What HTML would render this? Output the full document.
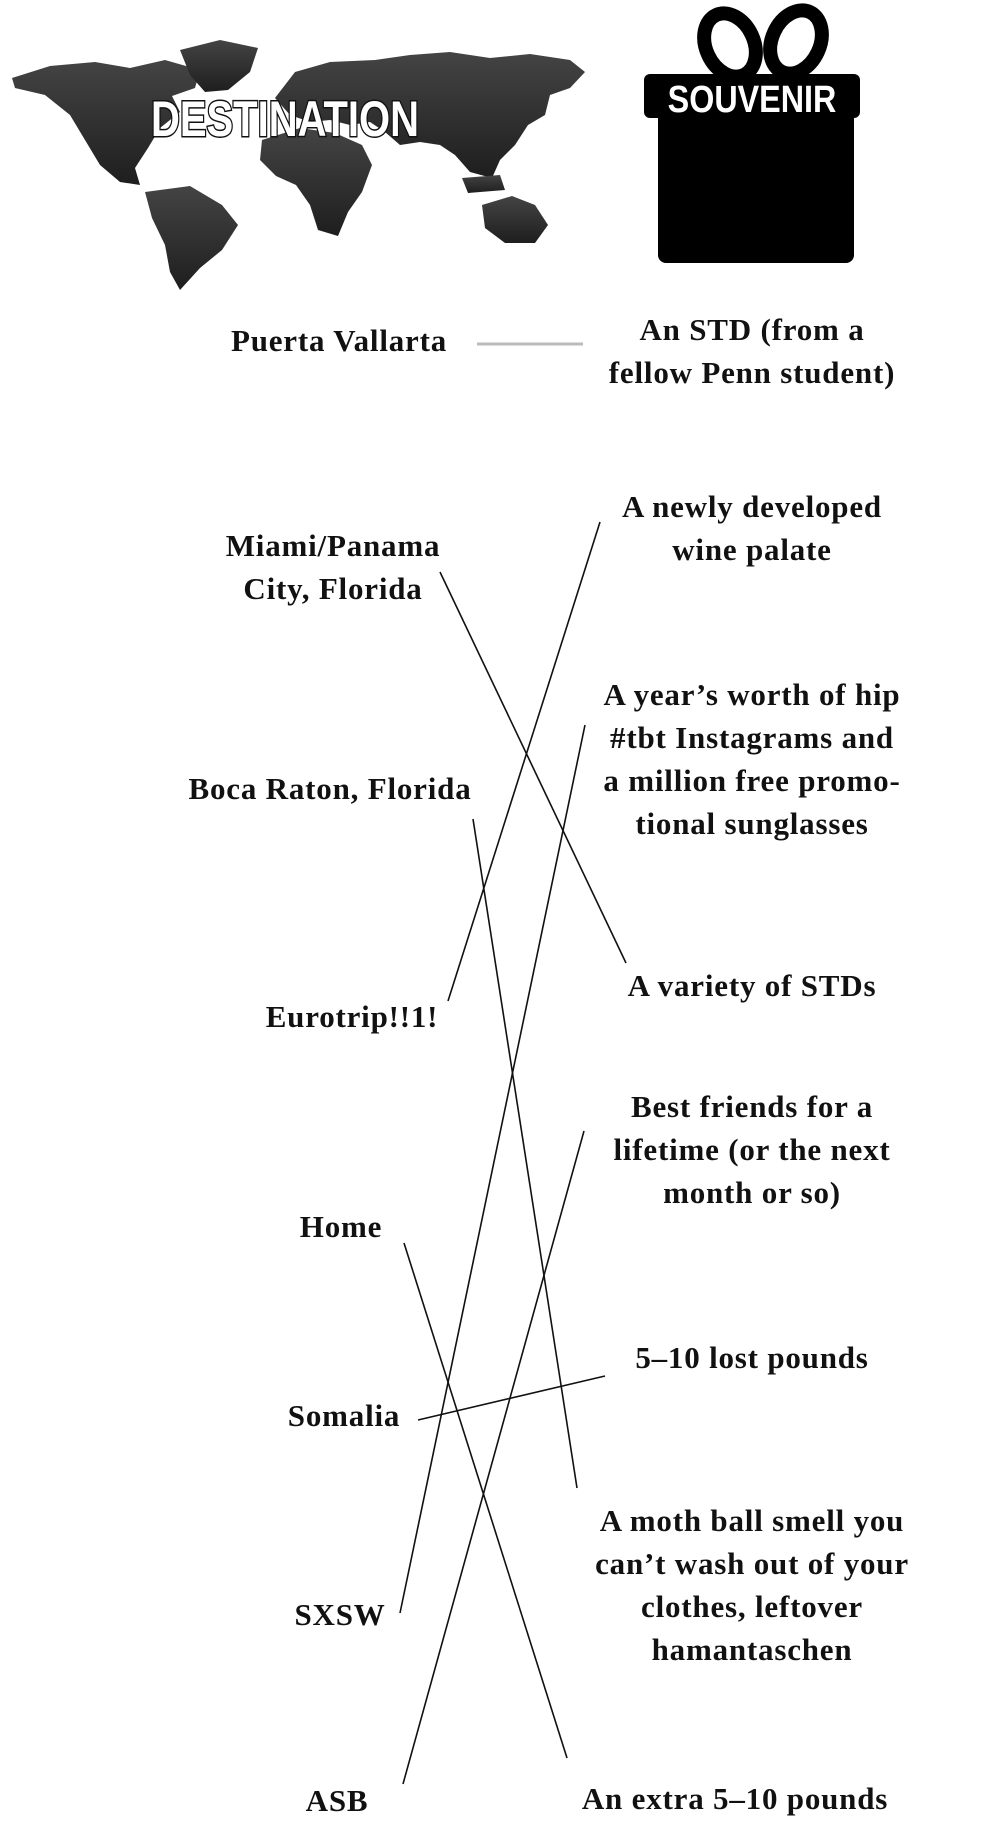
<!DOCTYPE html>
<html><head><meta charset="utf-8"><style>
html,body{margin:0;padding:0;background:#fff;}
body{width:1000px;height:1843px;position:relative;overflow:hidden;font-family:"Liberation Serif",serif;}
.t{position:absolute;font-size:31px;font-weight:bold;color:#111;text-align:center;line-height:43px;letter-spacing:0.8px;white-space:nowrap;transform:translateX(-50%);}
</style></head><body>
<svg width="1000" height="1843" style="position:absolute;left:0;top:0">
<defs><linearGradient id="g" x1="0" y1="0" x2="0" y2="1"><stop offset="0" stop-color="#444"/><stop offset="1" stop-color="#1e1e1e"/></linearGradient></defs>
<g fill="url(#g)">
<path d="M12,78 L50,66 L95,62 L130,68 L165,60 L200,70 L195,88 L172,96 L180,112 L160,128 L148,148 L135,168 L140,185 L120,182 L100,165 L85,140 L70,115 L45,95 L15,88Z"/>
<path d="M180,50 L220,40 L258,48 L250,72 L228,90 L205,92 L190,75Z"/>
<path d="M145,192 L190,186 L222,205 L238,225 L222,250 L200,268 L180,290 L170,272 L165,245 L152,218Z"/>
<path d="M275,98 L295,72 L330,62 L375,60 L410,55 L450,52 L490,58 L530,54 L570,60 L585,72 L570,88 L550,95 L545,115 L528,125 L515,145 L500,160 L492,178 L470,172 L455,155 L440,145 L420,142 L400,145 L385,132 L370,122 L350,125 L330,120 L310,122 L290,115Z"/>
<path d="M262,140 L300,128 L335,133 L362,145 L372,165 L362,192 L348,212 L338,236 L318,230 L310,205 L296,185 L276,176 L260,160Z"/>
<path d="M482,205 L512,196 L535,205 L548,225 L535,243 L505,243 L485,228Z"/>
<path d="M462,178 L500,175 L505,190 L468,193Z"/>
</g>
<text x="285" y="136" text-anchor="middle" font-family="Liberation Sans,sans-serif" font-weight="bold" font-size="50" fill="#fff" stroke="#111" stroke-width="3" paint-order="stroke" transform="translate(285,0) scale(0.8,1) translate(-285,0)">DESTINATION</text>
<ellipse cx="730" cy="45" rx="24" ry="33" fill="none" stroke="#000" stroke-width="14" transform="rotate(-25 730 45)"/>
<ellipse cx="796" cy="42" rx="24" ry="33" fill="none" stroke="#000" stroke-width="14" transform="rotate(25 796 42)"/>
<rect x="644" y="74" width="216" height="44" rx="6" fill="#000"/>
<rect x="658" y="110" width="196" height="153" rx="8" fill="#000"/>
<text x="752" y="112" text-anchor="middle" font-family="Liberation Sans,sans-serif" font-weight="bold" font-size="38" fill="#fff" transform="translate(752,0) scale(0.85,1) translate(-752,0)">SOUVENIR</text>
<line x1="477" y1="344" x2="583" y2="344" stroke="#bbb" stroke-width="3"/>
<g stroke="#111" stroke-width="1.6">
<line x1="448" y1="1001" x2="600" y2="522"/>
<line x1="440" y1="572" x2="626" y2="963"/>
<line x1="473" y1="819" x2="577" y2="1488"/>
<line x1="400" y1="1613" x2="585" y2="725"/>
<line x1="403" y1="1784" x2="584" y2="1131"/>
<line x1="404" y1="1243" x2="567" y2="1758"/>
<line x1="418" y1="1420" x2="605" y2="1376"/>
</g>
</svg>
<div class="t" style="left:339px;top:319px">Puerta Vallarta</div>
<div class="t" style="left:752px;top:308px">An STD (from a<br>fellow Penn student)</div>
<div class="t" style="left:333px;top:524px">Miami/Panama<br>City, Florida</div>
<div class="t" style="left:752px;top:485px">A newly developed<br>wine palate</div>
<div class="t" style="left:752px;top:673px">A year’s worth of hip<br>#tbt Instagrams and<br>a million free promo-<br>tional sunglasses</div>
<div class="t" style="left:330px;top:767px">Boca Raton, Florida</div>
<div class="t" style="left:752px;top:964px">A variety of STDs</div>
<div class="t" style="left:352px;top:995px">Eurotrip!!1!</div>
<div class="t" style="left:752px;top:1085px">Best friends for a<br>lifetime (or the next<br>month or so)</div>
<div class="t" style="left:341px;top:1205px">Home</div>
<div class="t" style="left:752px;top:1336px">5–10 lost pounds</div>
<div class="t" style="left:344px;top:1394px">Somalia</div>
<div class="t" style="left:752px;top:1499px">A moth ball smell you<br>can’t wash out of your<br>clothes, leftover<br>hamantaschen</div>
<div class="t" style="left:340px;top:1593px">SXSW</div>
<div class="t" style="left:337px;top:1779px">ASB</div>
<div class="t" style="left:735px;top:1777px">An extra 5–10 pounds</div>
</body></html>
